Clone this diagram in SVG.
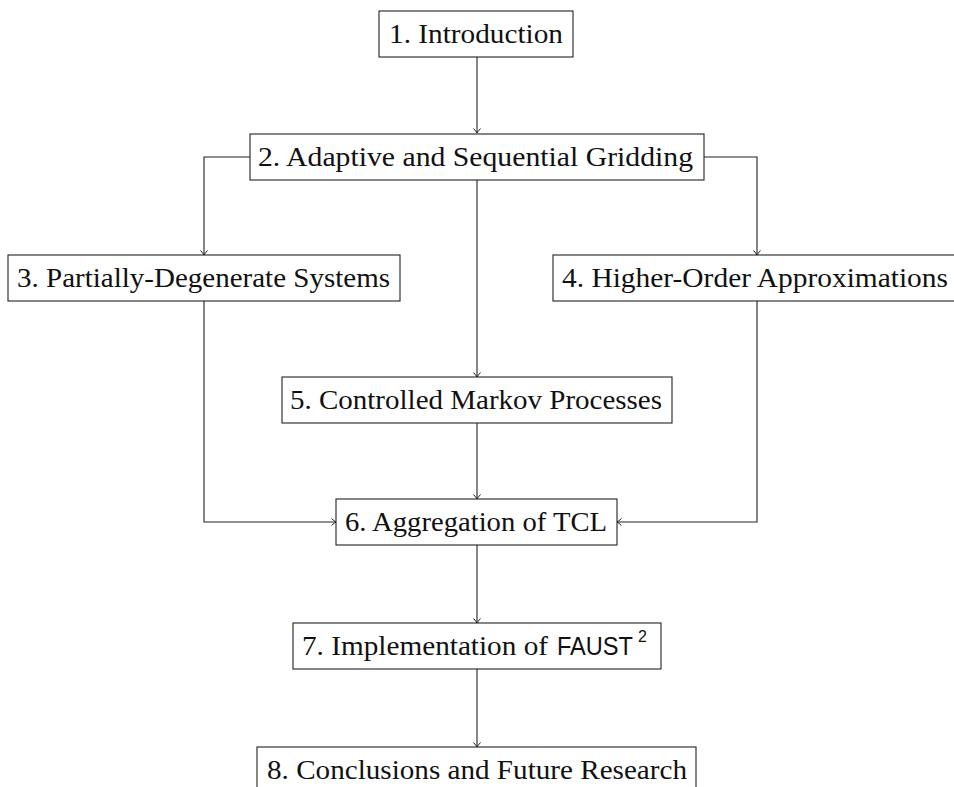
<svg xmlns="http://www.w3.org/2000/svg" width="954" height="787" viewBox="0 0 954 787">
<style>
.box{fill:#fff;stroke:#222;stroke-width:1.1}
.t{font-family:"Liberation Serif","Times New Roman",serif;font-size:27px;fill:#111}
.sf{font-family:"Liberation Sans",Arial,sans-serif;fill:#111}
.c{fill:none;stroke:#222;stroke-width:1.1}
</style>
<defs>
<marker id="ar" markerWidth="10" markerHeight="10" refX="0" refY="0" viewBox="-6 -5 8 10" markerUnits="userSpaceOnUse" orient="auto">
<path d="M-4.5,-3.5 Q-1.5,-0.8 0,0 Q-1.5,0.8 -4.5,3.5" fill="none" stroke="#222" stroke-width="1"/>
</marker>
</defs>
<rect width="954" height="787" fill="#fff"/>
<g id="connectors">
<path class="c" d="M477,57 V133" marker-end="url(#ar)"/>
<path class="c" d="M250,157 H204 V255" marker-end="url(#ar)"/>
<path class="c" d="M704,157 H757 V255" marker-end="url(#ar)"/>
<path class="c" d="M477,180 V377" marker-end="url(#ar)"/>
<path class="c" d="M204,301 V522 H336" marker-end="url(#ar)"/>
<path class="c" d="M757,301 V522 H617" marker-end="url(#ar)"/>
<path class="c" d="M477,423 V499" marker-end="url(#ar)"/>
<path class="c" d="M477,545 V623" marker-end="url(#ar)"/>
<path class="c" d="M477,669 V747" marker-end="url(#ar)"/>
</g>
<g id="n1"><rect class="box" x="379" y="11" width="194" height="46"/><text class="t" x="389" y="43" textLength="174" lengthAdjust="spacingAndGlyphs">1. Introduction</text></g>
<g id="n2"><rect class="box" x="250" y="134" width="454" height="46"/><text class="t" x="258" y="166" textLength="435" lengthAdjust="spacingAndGlyphs">2. Adaptive and Sequential Gridding</text></g>
<g id="n3"><rect class="box" x="8" y="255" width="392" height="46"/><text class="t" x="17" y="287" textLength="373" lengthAdjust="spacingAndGlyphs">3. Partially-Degenerate Systems</text></g>
<g id="n4"><rect class="box" x="553" y="255" width="406" height="46"/><text class="t" x="562" y="287" textLength="386" lengthAdjust="spacingAndGlyphs">4. Higher-Order Approximations</text></g>
<g id="n5"><rect class="box" x="282" y="377" width="390" height="46"/><text class="t" x="290" y="409" textLength="372" lengthAdjust="spacingAndGlyphs">5. Controlled Markov Processes</text></g>
<g id="n6"><rect class="box" x="336" y="499" width="281" height="46"/><text class="t" x="345" y="531" textLength="262" lengthAdjust="spacingAndGlyphs">6. Aggregation of TCL</text></g>
<g id="n7"><rect class="box" x="293" y="623" width="368" height="46"/><text class="t" x="302" y="655"><tspan textLength="246" lengthAdjust="spacingAndGlyphs">7. Implementation of</tspan><tspan class="sf" x="557" font-size="25" textLength="76" lengthAdjust="spacingAndGlyphs">FAUST</tspan><tspan class="sf" x="638" y="642" font-size="16">2</tspan></text></g>
<g id="n8"><rect class="box" x="257" y="747" width="439" height="46"/><text class="t" x="267" y="779" textLength="420" lengthAdjust="spacingAndGlyphs">8. Conclusions and Future Research</text></g>
</svg>
